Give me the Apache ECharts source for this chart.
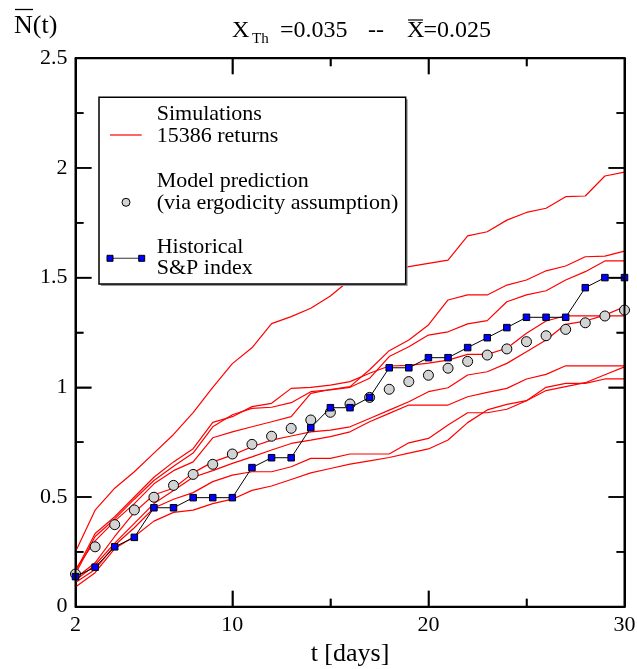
<!DOCTYPE html>
<html>
<head>
<meta charset="utf-8">
<script src="https://cdn.jsdelivr.net/npm/echarts@6/dist/echarts.min.js"></script>
<style>
  html, body { margin: 0; padding: 0; background: #fff; }
  #chart { width: 637px; height: 669px; }
</style>
</head>
<body>
<div id="chart"></div>
<script>
// Time axis (days) and the labelled ticks
const days = [2,3,4,5,6,7,8,9,10,11,12,13,14,15,16,17,18,19,20,21,22,23,24,25,26,27,28,29,30];
const dayLabels = [2, 10, 20, 30];
const dayMajorTicks = [10, 20];
const dayMinorTicks = [15, 25];
const levelMajorTicks = [0.5, 1, 1.5, 2];
const levelMinorTicks = [0.25, 0.75, 1.25, 1.75, 2.25];

// Simulated runs of the mean count N(t)
const simRun1 = [0.25,0.44,0.54,0.615,0.70,0.785,0.885,1.00,1.108,1.18,1.29,1.322,1.36,1.416,1.49,1.51,1.535,1.55,1.565,1.58,1.69,1.709,1.762,1.797,1.816,1.869,1.872,1.963,1.981];
const simRun2 = [0.17,0.30,0.39,0.47,0.56,0.62,0.66,0.77,0.797,0.82,0.843,0.866,0.972,0.99,1.003,1.08,1.167,1.216,1.284,1.398,1.421,1.421,1.466,1.489,1.531,1.553,1.595,1.598,1.621];
const simRun3 = [0.15,0.32,0.40,0.49,0.575,0.64,0.70,0.82,0.875,0.904,0.909,0.93,0.98,0.988,1.00,1.041,1.14,1.185,1.238,1.253,1.289,1.304,1.39,1.421,1.44,1.489,1.527,1.576,1.576];
const simRun4 = [0.13,0.20,0.32,0.43,0.51,0.54,0.61,0.66,0.691,0.729,0.759,0.778,0.797,0.805,0.82,0.858,0.896,0.934,0.98,0.998,1.056,1.071,1.109,1.162,1.216,1.287,1.302,1.329,1.367];
const simRun5 = [0.16,0.334,0.41,0.50,0.59,0.66,0.72,0.84,0.866,0.912,0.927,0.995,1.00,1.01,1.026,1.064,1.097,1.10,1.11,1.124,1.15,1.15,1.178,1.246,1.302,1.326,1.326,1.326,1.326];
const simRun6 = [0.12,0.19,0.29,0.38,0.47,0.53,0.59,0.62,0.653,0.683,0.714,0.744,0.759,0.775,0.797,0.843,0.881,0.919,0.919,0.919,0.957,0.977,0.995,1.038,1.059,1.098,1.098,1.098,1.098];
const simRun7 = [0.09,0.155,0.265,0.32,0.39,0.43,0.44,0.47,0.49,0.53,0.55,0.58,0.61,0.63,0.65,0.665,0.68,0.70,0.719,0.76,0.839,0.897,0.922,0.939,0.985,1.003,1.021,1.057,1.093];
const simRun8 = [0.11,0.17,0.28,0.36,0.45,0.49,0.52,0.57,0.60,0.615,0.615,0.638,0.676,0.676,0.696,0.696,0.696,0.747,0.767,0.828,0.884,0.884,0.90,0.939,1.00,1.018,1.018,1.038,1.038];
const simRuns = [simRun1, simRun2, simRun3, simRun4, simRun5, simRun6, simRun7, simRun8];

// Model prediction via the ergodicity assumption
const modelPrediction = [0.149,0.273,0.374,0.441,0.499,0.553,0.603,0.649,0.696,0.740,0.777,0.813,0.851,0.886,0.924,0.954,0.991,1.026,1.055,1.087,1.118,1.147,1.175,1.208,1.235,1.264,1.294,1.325,1.352];

// Historical S&P index
const spIndex = [0.137,0.180,0.273,0.316,0.451,0.451,0.497,0.497,0.497,0.634,0.679,0.679,0.816,0.907,0.907,0.954,1.089,1.089,1.135,1.135,1.181,1.226,1.272,1.319,1.319,1.319,1.454,1.500,1.500];

const serif = '"Liberation Serif", "Times New Roman", serif';
const pairs = vals => days.map((d, i) => [d, vals[i]]);

const chart = echarts.init(document.getElementById('chart'), null, { renderer: 'canvas' });

// Plot frame; labels are allowed to sit outside it
const gridBox = { left: 75.5, right: 12.5, top: 58.2, bottom: 62.3, outerBoundsMode: 'none' };

const series = simRuns.map((run, k) => ({
  type: 'line',
  name: 'sim' + (k + 1),
  xAxisIndex: 0, yAxisIndex: 0,
  data: pairs(run),
  symbol: 'none',
  lineStyle: { color: '#ff0000', width: 1.2 },
  silent: true,
  z: 2
}));
series.push({
  type: 'scatter',
  name: 'Model prediction',
  xAxisIndex: 0, yAxisIndex: 0,
  data: pairs(modelPrediction),
  symbol: 'circle',
  symbolSize: 10,
  itemStyle: { color: '#d3d3d3', borderColor: '#000', borderWidth: 1, opacity: 1 },
  z: 3
});
series.push({
  type: 'line',
  name: 'Historical S&P index',
  xAxisIndex: 0, yAxisIndex: 0,
  data: pairs(spIndex),
  symbol: 'rect',
  symbolSize: 6.5,
  showAllSymbol: true,
  itemStyle: { color: '#0000ff', borderColor: '#000', borderWidth: 1 },
  lineStyle: { color: '#000', width: 1 },
  z: 4
});

// Legend box drawn as graphic elements
const legendFont = '22px ' + serif;
const legendX = 99, legendY = 97.3, legendW = 306.7, legendH = 186.7;
const textX = 156.7;
const graphics = [
  { type: 'rect', shape: { x: legendX + 2, y: legendY + 2, width: legendW, height: legendH }, style: { fill: '#9a9a9a' }, z: 50 },
  { type: 'rect', shape: { x: legendX, y: legendY, width: legendW, height: legendH }, style: { fill: '#fff', stroke: '#000', lineWidth: 1.5 }, z: 51 },
  { type: 'line', shape: { x1: 110, y1: 135, x2: 141.7, y2: 135 }, style: { stroke: '#ff0000', lineWidth: 1.2 }, z: 52 },
  { type: 'circle', shape: { cx: 126, cy: 202.3, r: 4 }, style: { fill: '#d3d3d3', stroke: '#000', lineWidth: 1 }, z: 52 },
  { type: 'line', shape: { x1: 110, y1: 258.3, x2: 141.7, y2: 258.3 }, style: { stroke: '#555', lineWidth: 1.2 }, z: 52 },
  { type: 'rect', shape: { x: 107, y: 255.3, width: 6, height: 6 }, style: { fill: '#0000ff', stroke: '#000', lineWidth: 1 }, z: 53 },
  { type: 'rect', shape: { x: 138.7, y: 255.3, width: 6, height: 6 }, style: { fill: '#0000ff', stroke: '#000', lineWidth: 1 }, z: 53 }
];
const legendLines = [
  ['Simulations', 114], ['15386 returns', 136],
  ['Model prediction', 181.7], ['(via ergodicity assumption)', 203.3],
  ['Historical', 247.5], ['S&P index', 268.3]
];
legendLines.forEach(([txt, y]) => graphics.push({
  type: 'text', z: 53,
  style: { text: txt, x: textX, y: y, font: legendFont, fill: '#000',
           align: 'left', verticalAlign: 'middle', textAlign: 'left', textVerticalAlign: 'middle' }
}));

// Title pieces: X_Th =0.035  --  X̄=0.025
const titleFont = '24px ' + serif;
const titleY = 31;
const titleParts = [
  ['X', 232, titleY, titleFont],
  ['Th', 252, titleY + 8, '15px ' + serif],
  ['=0.035', 280, titleY, titleFont],
  ['--', 368, titleY, titleFont],
  ['X', 407, titleY, titleFont],
  ['=0.025', 423.5, titleY, titleFont]
];
titleParts.forEach(([txt, x, y, f]) => graphics.push({
  type: 'text', z: 60,
  style: { text: txt, x: x, y: y, font: f, fill: '#000',
           align: 'left', verticalAlign: 'middle', textAlign: 'left', textVerticalAlign: 'middle' }
}));
graphics.push({ type: 'line', shape: { x1: 408, y1: 20, x2: 423, y2: 20 }, style: { stroke: '#000', lineWidth: 1.2 }, z: 60 });

// y-axis name N̄(t)
graphics.push({
  type: 'text', z: 60,
  style: { text: 'N(t)', x: 14, y: 26, font: '26px ' + serif, fill: '#000',
           align: 'left', verticalAlign: 'middle', textAlign: 'left', textVerticalAlign: 'middle' }
});
graphics.push({ type: 'line', shape: { x1: 15, y1: 9.5, x2: 33, y2: 9.5 }, style: { stroke: '#000', lineWidth: 1.3 }, z: 60 });

// Frame lines stay on the plot edges instead of snapping to zero
function axisLine(show) { return { show: show, onZero: false, lineStyle: { color: '#000', width: 2 } }; }
function tick(len, custom) {
  const t = { show: true, inside: true, length: len, lineStyle: { color: '#000', width: 1.5 } };
  if (custom) t.customValues = custom;
  return t;
}

const option = {
  animation: false,
  backgroundColor: '#fff',
  grid: [Object.assign({}, gridBox), Object.assign({}, gridBox)],
  xAxis: [
    {
      gridIndex: 0, type: 'value', position: 'bottom', min: 2, max: 30, interval: 1,
      axisLine: axisLine(true),
      axisTick: tick(16, dayMajorTicks),
      axisLabel: { show: true, customValues: dayLabels, margin: 8, fontSize: 22, fontFamily: serif, color: '#000' },
      splitLine: { show: false },
      name: 't [days]', nameLocation: 'middle', nameGap: 27,
      nameTextStyle: { fontSize: 26, fontFamily: serif, color: '#000' }
    },
    {
      gridIndex: 0, type: 'value', position: 'top', min: 2, max: 30, interval: 1,
      axisLine: axisLine(true),
      axisTick: tick(16, dayMajorTicks),
      axisLabel: { show: false },
      splitLine: { show: false }
    },
    {
      gridIndex: 1, type: 'value', position: 'bottom', min: 2, max: 30, interval: 1,
      axisLine: axisLine(false),
      axisTick: tick(8, dayMinorTicks),
      axisLabel: { show: false },
      splitLine: { show: false }
    },
    {
      gridIndex: 1, type: 'value', position: 'top', min: 2, max: 30, interval: 1,
      axisLine: axisLine(false),
      axisTick: tick(8, dayMinorTicks),
      axisLabel: { show: false },
      splitLine: { show: false }
    }
  ],
  yAxis: [
    {
      gridIndex: 0, type: 'value', position: 'left', min: 0, max: 2.5, interval: 0.5,
      axisLine: axisLine(true),
      axisTick: tick(16),
      minorTick: { show: true, splitNumber: 2, length: 8, lineStyle: { color: '#000', width: 1.5 } },
      axisLabel: { show: true, margin: 8, fontSize: 22, fontFamily: serif, color: '#000' },
      splitLine: { show: false }
    },
    {
      gridIndex: 0, type: 'value', position: 'right', min: 0, max: 2.5, interval: 0.5,
      axisLine: axisLine(true),
      axisTick: tick(16),
      minorTick: { show: true, splitNumber: 2, length: 8, lineStyle: { color: '#000', width: 1.5 } },
      axisLabel: { show: false },
      splitLine: { show: false }
    },
    {
      gridIndex: 1, type: 'value', position: 'left', min: 0, max: 2.5, interval: 0.5,
      axisLine: axisLine(false), axisTick: { show: false }, axisLabel: { show: false },
      splitLine: { show: false }
    }
  ],
  series: series
};

chart.setOption(option);

// Frame and inward ticks on all four sides, placed through the axes' own scales
const toPx = (x, y) => chart.convertToPixel({ gridIndex: 0 }, [x, y]);
const frameStyle = { stroke: '#000', lineWidth: 2 };
const tickLineStyle = { stroke: '#000', lineWidth: 1.5 };
const [xL, yB] = toPx(2, 0);
const [xR, yT] = toPx(30, 2.5);
const frame = [
  { type: 'line', shape: { x1: xL, y1: yT, x2: xR, y2: yT }, style: frameStyle, z: 5 },
  { type: 'line', shape: { x1: xR, y1: yT, x2: xR, y2: yB }, style: frameStyle, z: 5 },
  { type: 'line', shape: { x1: xL, y1: yB, x2: xR, y2: yB }, style: frameStyle, z: 5 },
  { type: 'line', shape: { x1: xL, y1: yT, x2: xL, y2: yB }, style: frameStyle, z: 5 }
];
function xTicks(vals, len) {
  vals.forEach(v => {
    const px = toPx(v, 0)[0];
    frame.push({ type: 'line', shape: { x1: px, y1: yB, x2: px, y2: yB - len }, style: tickLineStyle, z: 5 });
    frame.push({ type: 'line', shape: { x1: px, y1: yT, x2: px, y2: yT + len }, style: tickLineStyle, z: 5 });
  });
}
function yTicks(vals, len) {
  vals.forEach(v => {
    const py = toPx(2, v)[1];
    frame.push({ type: 'line', shape: { x1: xL, y1: py, x2: xL + len, y2: py }, style: tickLineStyle, z: 5 });
    frame.push({ type: 'line', shape: { x1: xR, y1: py, x2: xR - len, y2: py }, style: tickLineStyle, z: 5 });
  });
}
xTicks(dayMajorTicks, 16);
xTicks(dayMinorTicks, 8);
yTicks(levelMajorTicks, 16);
yTicks(levelMinorTicks, 8);

chart.setOption({ graphic: { elements: frame.concat(graphics) } });
</script>
</body>
</html>
